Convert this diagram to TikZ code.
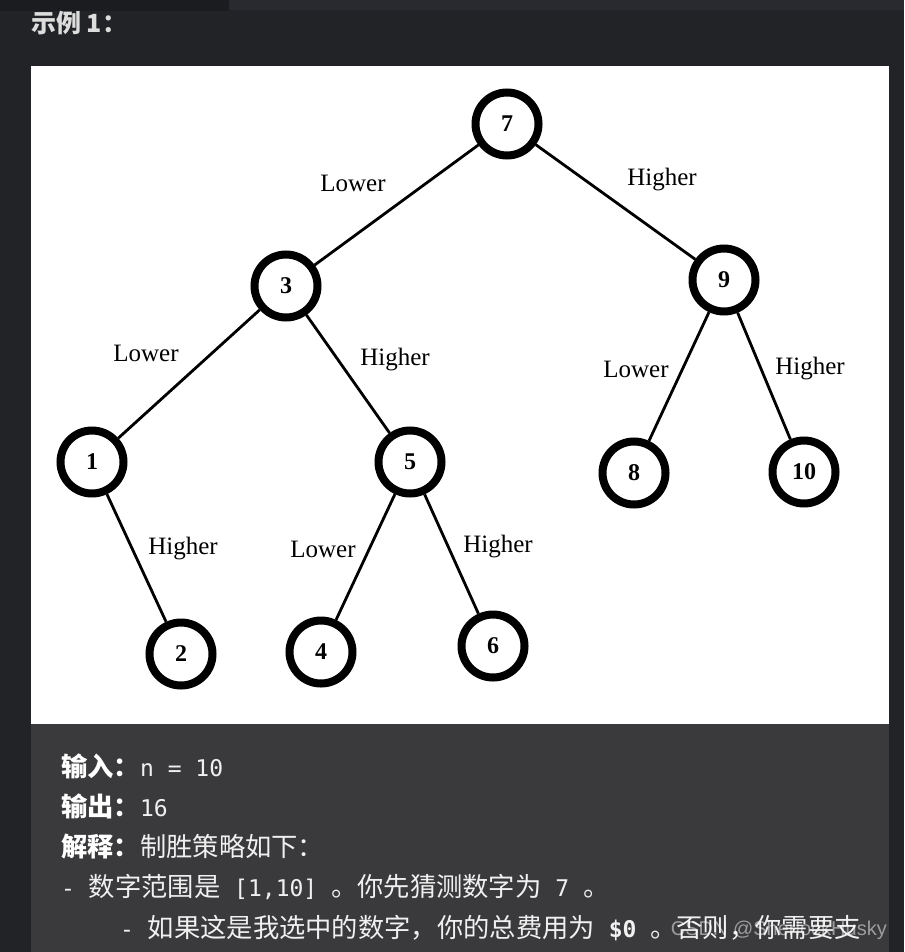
\documentclass[tikz,border=0pt]{standalone}
\usepackage{fontspec}
\setmainfont{Liberation Serif}
\newfontfamily\cjk{Noto Sans CJK SC}
\newfontfamily\monof{DejaVu Sans Mono}
\newfontfamily\wmfont{Liberation Sans}
\definecolor{bgc}{HTML}{222326}
\definecolor{topa}{HTML}{1B1C20}
\definecolor{topb}{HTML}{292A2F}
\definecolor{panel}{HTML}{3A3A3D}
\definecolor{txt}{HTML}{F0F0F0}
\newcommand\mm[1]{{\monof\fontsize{23}{23}\selectfont #1}}
\tikzset{
  tnode/.style={draw=black, circle, line width=8pt, minimum size=63pt, inner sep=0pt, fill=white,
                font=\fontsize{24}{24}\selectfont\bfseries},
  edge/.style={line width=2.8pt, black},
  lab/.style={font=\fontsize{25}{25}\selectfont, text=black, inner sep=0pt},
  txtline/.style={anchor=west, inner sep=0pt, text=txt, font=\cjk\fontsize{26.3}{26.3}\selectfont},
}
\begin{document}
\begin{tikzpicture}[x=1pt,y=-1pt]
\useasboundingbox (0,0) rectangle (904,952);
\fill[bgc] (0,0) rectangle (904,952);
\fill[topb] (229,0) rectangle (904,10);
\fill[topa] (0,0) rectangle (229,11);
\fill[white] (31,66) rectangle (889,724);
\fill[panel] (31,724) rectangle (889,952);
\node[anchor=west, inner sep=0pt, text=txt!92!black, font=\cjk\bfseries\fontsize{25}{25}\selectfont] (title) at (31,23) {示例 1：};
% tree
\node[tnode] (n7) at (507,124) {7};
\node[tnode] (n3) at (286,286) {3};
\node[tnode] (n9) at (724,280) {9};
\node[tnode] (n1) at (92,462) {1};
\node[tnode] (n5) at (410,462) {5};
\node[tnode] (n8) at (634,473) {8};
\node[tnode] (n10) at (804,472) {10};
\node[tnode] (n2) at (181,654) {2};
\node[tnode] (n4) at (321,652) {4};
\node[tnode] (n6) at (493,646) {6};
\draw[edge] (n7) -- (n3);
\draw[edge] (n7) -- (n9);
\draw[edge] (n3) -- (n1);
\draw[edge] (n3) -- (n5);
\draw[edge] (n9) -- (n8);
\draw[edge] (n9) -- (n10);
\draw[edge] (n1) -- (n2);
\draw[edge] (n5) -- (n4);
\draw[edge] (n5) -- (n6);
\node[lab] (l73) at (353,183) {Lower};
\node[lab] (l79) at (662,180) {Higher};
\node[lab] (l31) at (146,353) {Lower};
\node[lab] (l35) at (395,360) {Higher};
\node[lab] (l98) at (636,369) {Lower};
\node[lab] (l910) at (810,369) {Higher};
\node[lab] (l12) at (183,549) {Higher};
\node[lab] (l54) at (323,549) {Lower};
\node[lab] (l56) at (498,547) {Higher};
% text
\node[txtline] (t1) at (61,766) {{\bfseries\color{white}输入：}\mm{n = 10}};
\node[txtline] (t2) at (61,806) {{\bfseries\color{white}输出：}\mm{16}};
\node[txtline] (t3) at (61,847) {{\bfseries\color{white}解释：}制胜策略如下：};
\node[txtline] (t4) at (61,887) {\mm{-\ }数字范围是\mm{\ [1,10]\ }。你先猜测数字为\mm{\ 7\ }。};
\node[txtline] (t5) at (120,928) {\mm{-\ }如果这是我选中的数字，你的总费用为\mm{\ \textbf{\$0}\ }。否则，你需要支};
\node[anchor=east, inner sep=0pt, text=white, opacity=0.5, font=\wmfont\fontsize{20}{20}\selectfont] (wm) at (887,930) {CSDN @SherlockHusky};
\end{tikzpicture}
\end{document}
